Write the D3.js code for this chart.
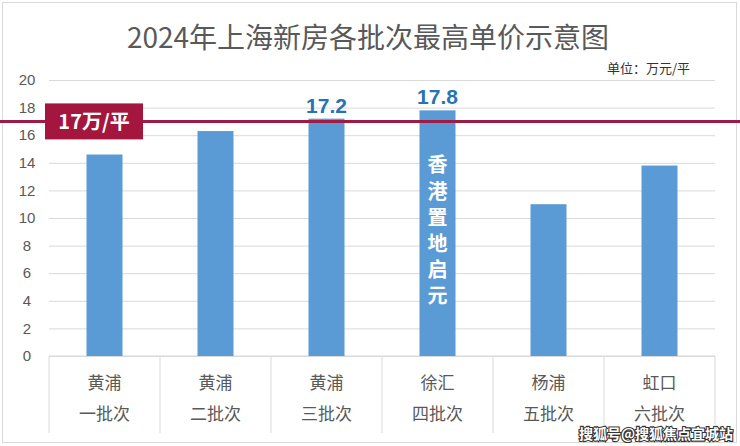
<!DOCTYPE html>
<html>
<head>
<meta charset="utf-8">
<script src="https://cdn.jsdelivr.net/npm/d3@7"></script>
<style>
  html, body { margin: 0; padding: 0; background: #fff; }
  svg { display: block; font-family: "Noto Sans CJK SC", "Noto Sans", sans-serif; }
</style>
</head>
<body>
<div id="chart"></div>
<script>
// data
const districts = ["黄浦", "黄浦", "黄浦", "徐汇", "杨浦", "虹口"];
const batches = ["一批次", "二批次", "三批次", "四批次", "五批次", "六批次"];
const prices = [14.6, 16.3, 17.2, 17.8, 11.0, 13.8];
const shownLabels = [null, null, "17.2", "17.8", null, null];
const yTicks = [0, 2, 4, 6, 8, 10, 12, 14, 16, 18, 20];
const refValue = 17;
const refLabel = "17万/平";
const barNote = "香港置地启元";
const title = "2024年上海新房各批次最高单价示意图";
const unitText = "单位：万元/平";

const W = 740, H = 446;
const margin = { top: 80, right: 25, bottom: 90, left: 49 };
const width = W - margin.left - margin.right;
const height = H - margin.top - margin.bottom;

const svg = d3.select("#chart").append("svg")
  .attr("width", W).attr("height", H);

// outer frame
svg.append("rect")
  .attr("x", 2.5).attr("y", 2.5).attr("width", W - 6).attr("height", H - 6)
  .attr("fill", "#fff").attr("stroke", "#d9d9d9");

svg.append("text")
  .attr("x", 368).attr("y", 48)
  .attr("text-anchor", "middle")
  .attr("font-size", 28).attr("fill", "#595959")
  .text(title);

svg.append("text")
  .attr("x", 690).attr("y", 73)
  .attr("text-anchor", "end")
  .attr("font-size", 13).attr("fill", "#333")
  .text(unitText);

const g = svg.append("g")
  .attr("transform", "translate(" + margin.left + "," + margin.top + ")");

const idx = d3.range(prices.length);
const x = d3.scaleBand().domain(idx).range([0, width]).paddingInner(0).paddingOuter(0);
const y = d3.scaleLinear().domain([0, 20]).range([height, 0]);

// gridlines
g.append("g")
  .call(d3.axisLeft(y).tickValues(yTicks).tickSize(-width).tickFormat(""))
  .call(s => s.select(".domain").remove())
  .selectAll("line").attr("stroke", "#d9d9d9");

// y labels
g.append("g")
  .selectAll("text")
  .data(yTicks)
  .join("text")
  .attr("x", -22).attr("y", d => y(d))
  .attr("dy", "0.35em")
  .attr("text-anchor", "middle")
  .attr("font-size", 15).attr("fill", "#595959")
  .attr("font-family", "'Liberation Sans', Arial, sans-serif")
  .text(d => d);

// category table lines
const table = g.append("g");
table.append("line")
  .attr("x1", 0).attr("x2", width).attr("y1", height).attr("y2", height)
  .attr("stroke", "#d9d9d9");
table.selectAll("line.sep")
  .data(d3.range(prices.length + 1))
  .join("line").attr("class", "sep")
  .attr("x1", d => d < prices.length ? x(d) : width)
  .attr("x2", d => d < prices.length ? x(d) : width)
  .attr("y1", height).attr("y2", height + 77)
  .attr("stroke", "#d9d9d9");

const barW = 36;
g.selectAll("rect.bar")
  .data(prices)
  .join("rect").attr("class", "bar")
  .attr("x", (d, i) => x(i) + x.bandwidth() / 2 - barW / 2)
  .attr("y", d => y(d))
  .attr("width", barW)
  .attr("height", d => height - y(d))
  .attr("fill", "#5b9bd5");

// value labels
g.selectAll("text.val")
  .data(prices)
  .join("text").attr("class", "val")
  .attr("x", (d, i) => x(i) + x.bandwidth() / 2)
  .attr("y", d => y(d) - 6)
  .attr("text-anchor", "middle")
  .attr("font-size", 21).attr("font-weight", "bold")
  .attr("fill", "#2574b3")
  .attr("font-family", "'Liberation Sans', Arial, sans-serif")
  .text((d, i) => shownLabels[i] || "");

// category labels
g.selectAll("text.dist")
  .data(districts)
  .join("text").attr("class", "dist")
  .attr("x", (d, i) => x(i) + x.bandwidth() / 2)
  .attr("y", height + 33)
  .attr("text-anchor", "middle")
  .attr("font-size", 17).attr("fill", "#595959")
  .text(d => d);
g.selectAll("text.batch")
  .data(batches)
  .join("text").attr("class", "batch")
  .attr("x", (d, i) => x(i) + x.bandwidth() / 2)
  .attr("y", height + 64)
  .attr("text-anchor", "middle")
  .attr("font-size", 17).attr("fill", "#595959")
  .text(d => d);

// vertical note inside the 4th bar
const noteX = x(3) + x.bandwidth() / 2;
g.append("text")
  .attr("text-anchor", "middle")
  .attr("font-size", 20).attr("font-weight", "bold").attr("fill", "#fff")
  .selectAll("tspan")
  .data(barNote.split(""))
  .join("tspan")
  .attr("x", noteX)
  .attr("y", (d, i) => y(prices[3]) + 62 + i * 26.2)
  .text(d => d);

// reference line
svg.append("line")
  .attr("x1", 0).attr("x2", W)
  .attr("y1", margin.top + y(refValue)).attr("y2", margin.top + y(refValue))
  .attr("stroke", "#9c1c45").attr("stroke-width", 3);
svg.append("rect")
  .attr("x", 45).attr("y", margin.top + y(refValue) - 18)
  .attr("width", 98).attr("height", 36)
  .attr("fill", "#a5163f");
svg.append("text")
  .attr("x", 94).attr("y", margin.top + y(refValue))
  .attr("dy", "0.36em")
  .attr("text-anchor", "middle")
  .attr("font-size", 20).attr("font-weight", "bold").attr("fill", "#fff")
  .text(refLabel);

// watermark
svg.append("text")
  .attr("x", 733).attr("y", 439)
  .attr("text-anchor", "end")
  .attr("font-size", 14).attr("font-weight", "bold")
  .attr("fill", "#fff").attr("stroke", "#333").attr("stroke-width", 2.2)
  .attr("paint-order", "stroke")
  .text("搜狐号@搜狐焦点宜城站");
</script>
</body>
</html>
